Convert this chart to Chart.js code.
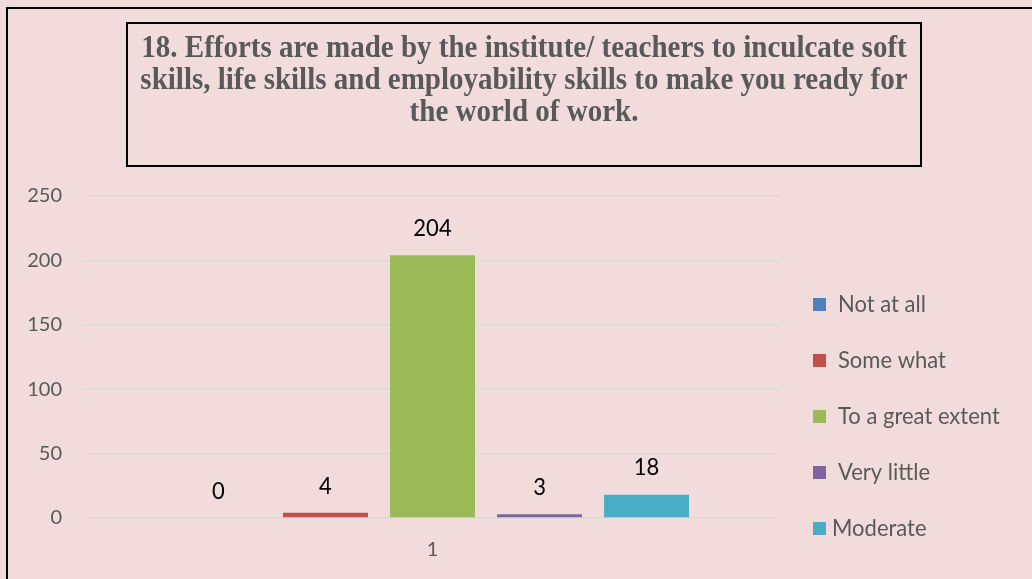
<!DOCTYPE html>
<html>
<head>
<meta charset="utf-8">
<script src="https://cdn.jsdelivr.net/npm/chart.js@4.4.0/dist/chart.umd.min.js"></script>
<style>
  html, body { margin: 0; padding: 0; background: #f2dcdb; }
  #wrap { width: 1032px; height: 579px; position: relative; }
</style>
</head>
<body>
<div id="wrap"><canvas id="c" width="1032" height="579"></canvas></div>
<script>
const categories = ['1'];
const seriesNames = ['Not at all', 'Some what', 'To a great extent', 'Very little', 'Moderate'];
const seriesValues = [0, 4, 204, 3, 18];
const seriesColors = ['#4f81bd', '#c0504d', '#9bbb59', '#8064a2', '#4bacc6'];
const yTicks = [0, 50, 100, 150, 200, 250];
const titleLines = [
  '18. Efforts are made by the institute/ teachers to inculcate soft',
  'skills, life skills and employability skills to make you ready for',
  'the world of work.'
];

const AXIS_FONT = 'Lato, "Open Sans", sans-serif';
const TEXT_GREY = '#595959';

function stretchedText(ctx, text, x, y, sy) {
  ctx.save();
  ctx.translate(x, y);
  ctx.scale(1, sy);
  ctx.fillText(text, 0, 0);
  ctx.restore();
}

const decorPlugin = {
  id: 'decor',
  beforeDraw(chart) {
    const ctx = chart.ctx;
    ctx.save();
    ctx.fillStyle = '#f2dcdb';
    ctx.fillRect(0, 0, chart.width, chart.height);
    // outer border
    ctx.strokeStyle = '#000';
    ctx.lineWidth = 2;
    ctx.strokeRect(7, 8, chart.width + 10, chart.height + 10);
    // title box
    ctx.strokeRect(127, 23, 794, 143);
    ctx.fillStyle = TEXT_GREY;
    ctx.font = 'bold 29px "Liberation Serif", "Times New Roman", serif';
    ctx.textAlign = 'center';
    ctx.textBaseline = 'middle';
    const ys = [49, 81, 113];
    titleLines.forEach((t, i) => stretchedText(ctx, t, 524, ys[i], 1.08));
    ctx.restore();
  },
  afterDatasetsDraw(chart) {
    const ctx = chart.ctx;
    ctx.save();
    ctx.fillStyle = '#000';
    ctx.font = '22px ' + AXIS_FONT;
    ctx.textAlign = 'center';
    ctx.textBaseline = 'middle';
    chart.data.datasets.forEach((ds, i) => {
      const meta = chart.getDatasetMeta(i);
      meta.data.forEach((bar, j) => {
        stretchedText(ctx, String(ds.data[j]), bar.x, bar.y - 27, 1.08);
      });
    });
    // legend
    ctx.font = '22px ' + AXIS_FONT;
    ctx.textAlign = 'left';
    const startY = 304, step = 56;
    chart.data.datasets.forEach((ds, i) => {
      const y = startY + i * step;
      ctx.fillStyle = ds.backgroundColor;
      ctx.fillRect(813, y - 6, 13, 13);
      ctx.fillStyle = TEXT_GREY;
      stretchedText(ctx, ds.label, i === 4 ? 832 : 838, y + 1, 1.05);
    });
    ctx.restore();
  }
};

new Chart(document.getElementById('c'), {
  type: 'bar',
  data: {
    labels: categories,
    datasets: seriesNames.map((name, i) => ({
      label: name,
      data: [seriesValues[i]],
      backgroundColor: seriesColors[i],
      borderWidth: 0,
      categoryPercentage: 0.77,
      barPercentage: 0.794
    }))
  },
  options: {
    responsive: false,
    animation: false,
    devicePixelRatio: 1,
    layout: { padding: { top: 196, right: 252, bottom: 0, left: 0 } },
    plugins: { legend: { display: false }, title: { display: false }, tooltip: { enabled: false } },
    scales: {
      x: {
        grid: { display: false, drawTicks: false },
        border: { display: false },
        ticks: { color: TEXT_GREY, font: { family: AXIS_FONT, size: 20 }, padding: 20 },
        afterFit(s) { s.height = 61; }
      },
      y: {
        min: 0, max: 250,
        afterBuildTicks(s) { s.ticks = yTicks.map(v => ({ value: v })); },
        grid: { color: '#d9d9d9', lineWidth: 1.5, drawTicks: false },
        border: { display: false },
        ticks: { color: TEXT_GREY, font: { family: AXIS_FONT, size: 20 }, padding: 23 },
        afterFit(s) { s.width = 85; }
      }
    }
  },
  plugins: [decorPlugin]
});
</script>
</body>
</html>
